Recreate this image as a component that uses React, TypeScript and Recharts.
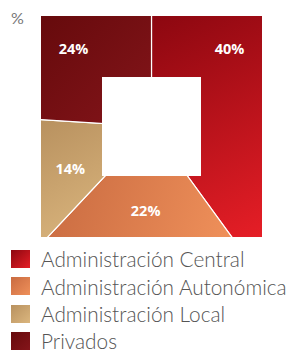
import { PieChart, Pie, Sector, Legend } from "recharts";

const categories = [
  "Administración Central",
  "Administración Autonómica",
  "Administración Local",
  "Privados",
];
const shares = [40, 22, 14, 24];
const colorsFrom = ["#8c0710", "#c96b41", "#b8915f", "#660a0c"];
const colorsTo = ["#e51e26", "#ef905a", "#dbb67e", "#84151a"];

const data = categories.map((name, i) => ({ name, value: shares[i] }));

// square "donut": half side of the outer and inner squares
const OUT = 110.5;
const IN = 49.5;

function framePath(cx: number, cy: number) {
  return (
    `M${cx - OUT},${cy - OUT}H${cx + OUT}V${cy + OUT}H${cx - OUT}Z ` +
    `M${cx - IN},${cy - IN}H${cx + IN}V${cy + IN}H${cx - IN}Z`
  );
}

function cwFrom(start: number, a: number) {
  return (((start - a) % 360) + 360) % 360;
}

// bbox + centroid of the part of a slice that is inside the square frame
function region(cx: number, cy: number, start: number, end: number) {
  let minX = Infinity, minY = Infinity, maxX = -Infinity, maxY = -Infinity;
  let sx = 0, sy = 0, n = 0;
  const sweep = start - end;
  for (let x = cx - OUT; x <= cx + OUT; x += 2) {
    for (let y = cy - OUT; y <= cy + OUT; y += 2) {
      if (Math.abs(x - cx) < IN && Math.abs(y - cy) < IN) continue;
      const a = (Math.atan2(cy - y, x - cx) * 180) / Math.PI;
      if (cwFrom(start, a) > sweep) continue;
      minX = Math.min(minX, x); maxX = Math.max(maxX, x);
      minY = Math.min(minY, y); maxY = Math.max(maxY, y);
      sx += x; sy += y; n++;
    }
  }
  return { minX, minY, maxX, maxY, x: sx / n, y: sy / n };
}

const idxOf = (props: any) =>
  Math.max(0, categories.indexOf(props.name ?? props.payload?.name));

const SliceShape = (props: any) => {
  const cx = Number(props.cx);
  const cy = Number(props.cy);
  const startAngle = Number(props.startAngle);
  const endAngle = Number(props.endAngle);
  const i = idxOf(props);
  const r = region(cx, cy, startAngle, endAngle);
  return (
    <g>
      <defs>
        <clipPath id={`frame-${i}`}>
          <path d={framePath(cx, cy)} clipRule="evenodd" />
        </clipPath>
        <linearGradient
          id={`grad-${i}`}
          gradientUnits="userSpaceOnUse"
          x1={r.minX}
          y1={r.minY}
          x2={r.maxX}
          y2={r.maxY}
        >
          <stop offset="0" stopColor={colorsFrom[i]} />
          <stop offset="1" stopColor={colorsTo[i]} />
        </linearGradient>
      </defs>
      <g clipPath={`url(#frame-${i})`}>
        <Sector
          cx={cx}
          cy={cy}
          innerRadius={0}
          outerRadius={Number(props.outerRadius)}
          startAngle={startAngle}
          endAngle={endAngle}
          fill={`url(#grad-${i})`}
          stroke="#fff"
          strokeWidth={1.2}
        />
      </g>
    </g>
  );
};

const renderLabel = (props: any) => {
  const cx = Number(props.cx);
  const cy = Number(props.cy);
  const startAngle = Number(props.startAngle);
  const endAngle = Number(props.endAngle);
  const sweep = startAngle - endAngle;
  const d = 78;
  let x = 0, y = 0, found = false;
  // big slices get their label in a corner of the square
  for (const c of [45, 135, 225, 315]) {
    const cw = cwFrom(startAngle, c);
    if (cw <= sweep && Math.min(cw, sweep - cw) >= 20) {
      const rad = (c * Math.PI) / 180;
      x = cx + Math.sign(Math.cos(rad)) * d;
      y = cy - Math.sign(Math.sin(rad)) * d;
      found = true;
      break;
    }
  }
  if (!found) {
    const r = region(cx, cy, startAngle, endAngle);
    x = r.x + 3;
    y = r.y;
  }
  return (
    <text
      x={x}
      y={y}
      textAnchor="middle"
      dominantBaseline="central"
      fill="#fff"
      fontSize={14.5}
      fontWeight="bold"
      fontFamily="Open Sans"
    >
      {props.value}%
    </text>
  );
};

const renderLegend = () => (
  <div>
    {categories.map((c, i) => (
      <div key={c} style={{ display: "flex", alignItems: "center", height: 27.3 }}>
        <svg width={19} height={18}>
          <defs>
            <linearGradient id={`lg-${i}`} x1="0" y1="0" x2="1" y2="1">
              <stop offset="0" stopColor={colorsFrom[i]} />
              <stop offset="1" stopColor={colorsTo[i]} />
            </linearGradient>
          </defs>
          <rect width={19} height={18} fill={`url(#lg-${i})`} />
        </svg>
        <span
          style={{
            marginLeft: 11,
            fontFamily: "Lato",
            fontWeight: 300,
            fontSize: 20.8,
            color: "#555",
            whiteSpace: "nowrap",
          }}
        >
          {c}
        </span>
      </div>
    ))}
  </div>
);

export default function App() {
  return (
    <div style={{ position: "absolute", left: 0, top: 0, width: 288, height: 353 }}>
      <div
        style={{
          position: "absolute",
          left: 11,
          top: 8,
          fontFamily: "Lato",
          fontSize: 16,
          color: "#777",
        }}
      >
        %
      </div>
      <PieChart width={288} height={353} margin={{ top: 0, right: 0, bottom: 0, left: 0 }}>
        <Pie
          data={data}
          dataKey="value"
          nameKey="name"
          cx={151.5}
          cy={126.5}
          innerRadius={0}
          outerRadius={170}
          startAngle={90}
          endAngle={-270}
          stroke="#fff"
          shape={SliceShape}
          label={renderLabel}
          labelLine={false}
          isAnimationActive={false}
        />
        <Legend
          content={renderLegend}
          verticalAlign="bottom"
          align="left"
          layout="horizontal"
          wrapperStyle={{ left: 11, top: 245.3, width: "auto", bottom: "auto" }}
        />
      </PieChart>
    </div>
  );
}
